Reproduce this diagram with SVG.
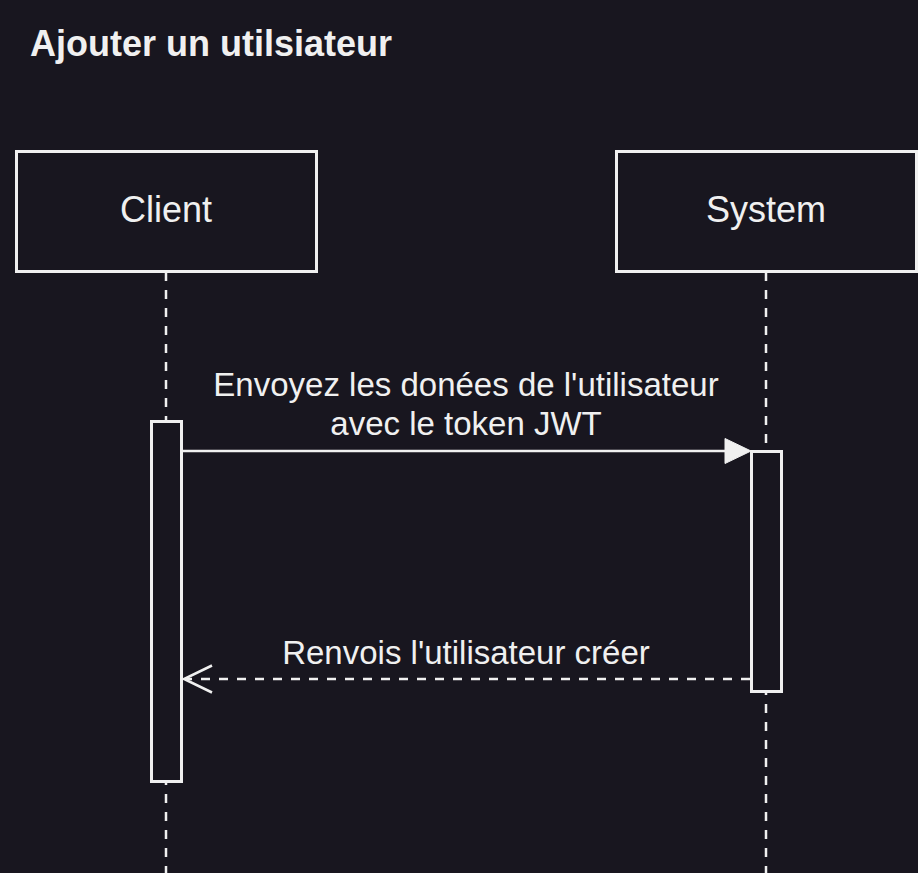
<svg xmlns="http://www.w3.org/2000/svg" width="918" height="873" viewBox="0 0 918 873">
<style>
  text { font-family: "Liberation Sans", Arial, sans-serif; fill: #f0f0f0; }
  .box { fill: #18161f; stroke: #f0f0f0; stroke-width: 3; }
  .life { stroke: #f0f0f0; stroke-width: 2.5; stroke-dasharray: 9 9; fill: none; }
  .msg { stroke: #f0f0f0; stroke-width: 2.5; fill: none; }
  .lbl { font-size: 33px; text-anchor: middle; }
  .head { font-size: 36px; text-anchor: middle; }
</style>
<rect width="918" height="873" fill="#18161f"/>
<text x="30" y="56" font-size="36" font-weight="bold">Ajouter un utilsiateur</text>
<g id="connectors">
  <line class="life" x1="166" y1="272" x2="166" y2="873"/>
  <line class="life" x1="766" y1="272" x2="766" y2="873"/>
</g>
<g id="client">
  <rect class="box" x="16.5" y="151.5" width="300" height="120"/>
  <text class="head" x="166" y="222">Client</text>
</g>
<g id="system">
  <rect class="box" x="616.5" y="151.5" width="300" height="120"/>
  <text class="head" x="766" y="222">System</text>
</g>
<g id="client-activation">
  <rect class="box" x="151.5" y="421.5" width="30" height="360"/>
</g>
<g id="system-activation">
  <rect class="box" x="751.5" y="451.5" width="30" height="240"/>
</g>
<g id="messages">
  <line class="msg" x1="181" y1="451" x2="728" y2="451"/>
  <polygon points="725,438.5 751,451 725,463.5" fill="#f0f0f0" stroke="#f0f0f0" stroke-width="1"/>
  <text class="lbl" x="466" y="396">Envoyez les donées de l'utilisateur</text>
  <text class="lbl" x="466" y="435">avec le token JWT</text>
  <line class="msg" x1="750" y1="679" x2="186" y2="679" stroke-dasharray="9 9"/>
  <polyline class="msg" points="212,665.5 184,679 212,692.5" stroke-width="3"/>
  <text class="lbl" x="466" y="664">Renvois l'utilisateur créer</text>
</g>
</svg>
